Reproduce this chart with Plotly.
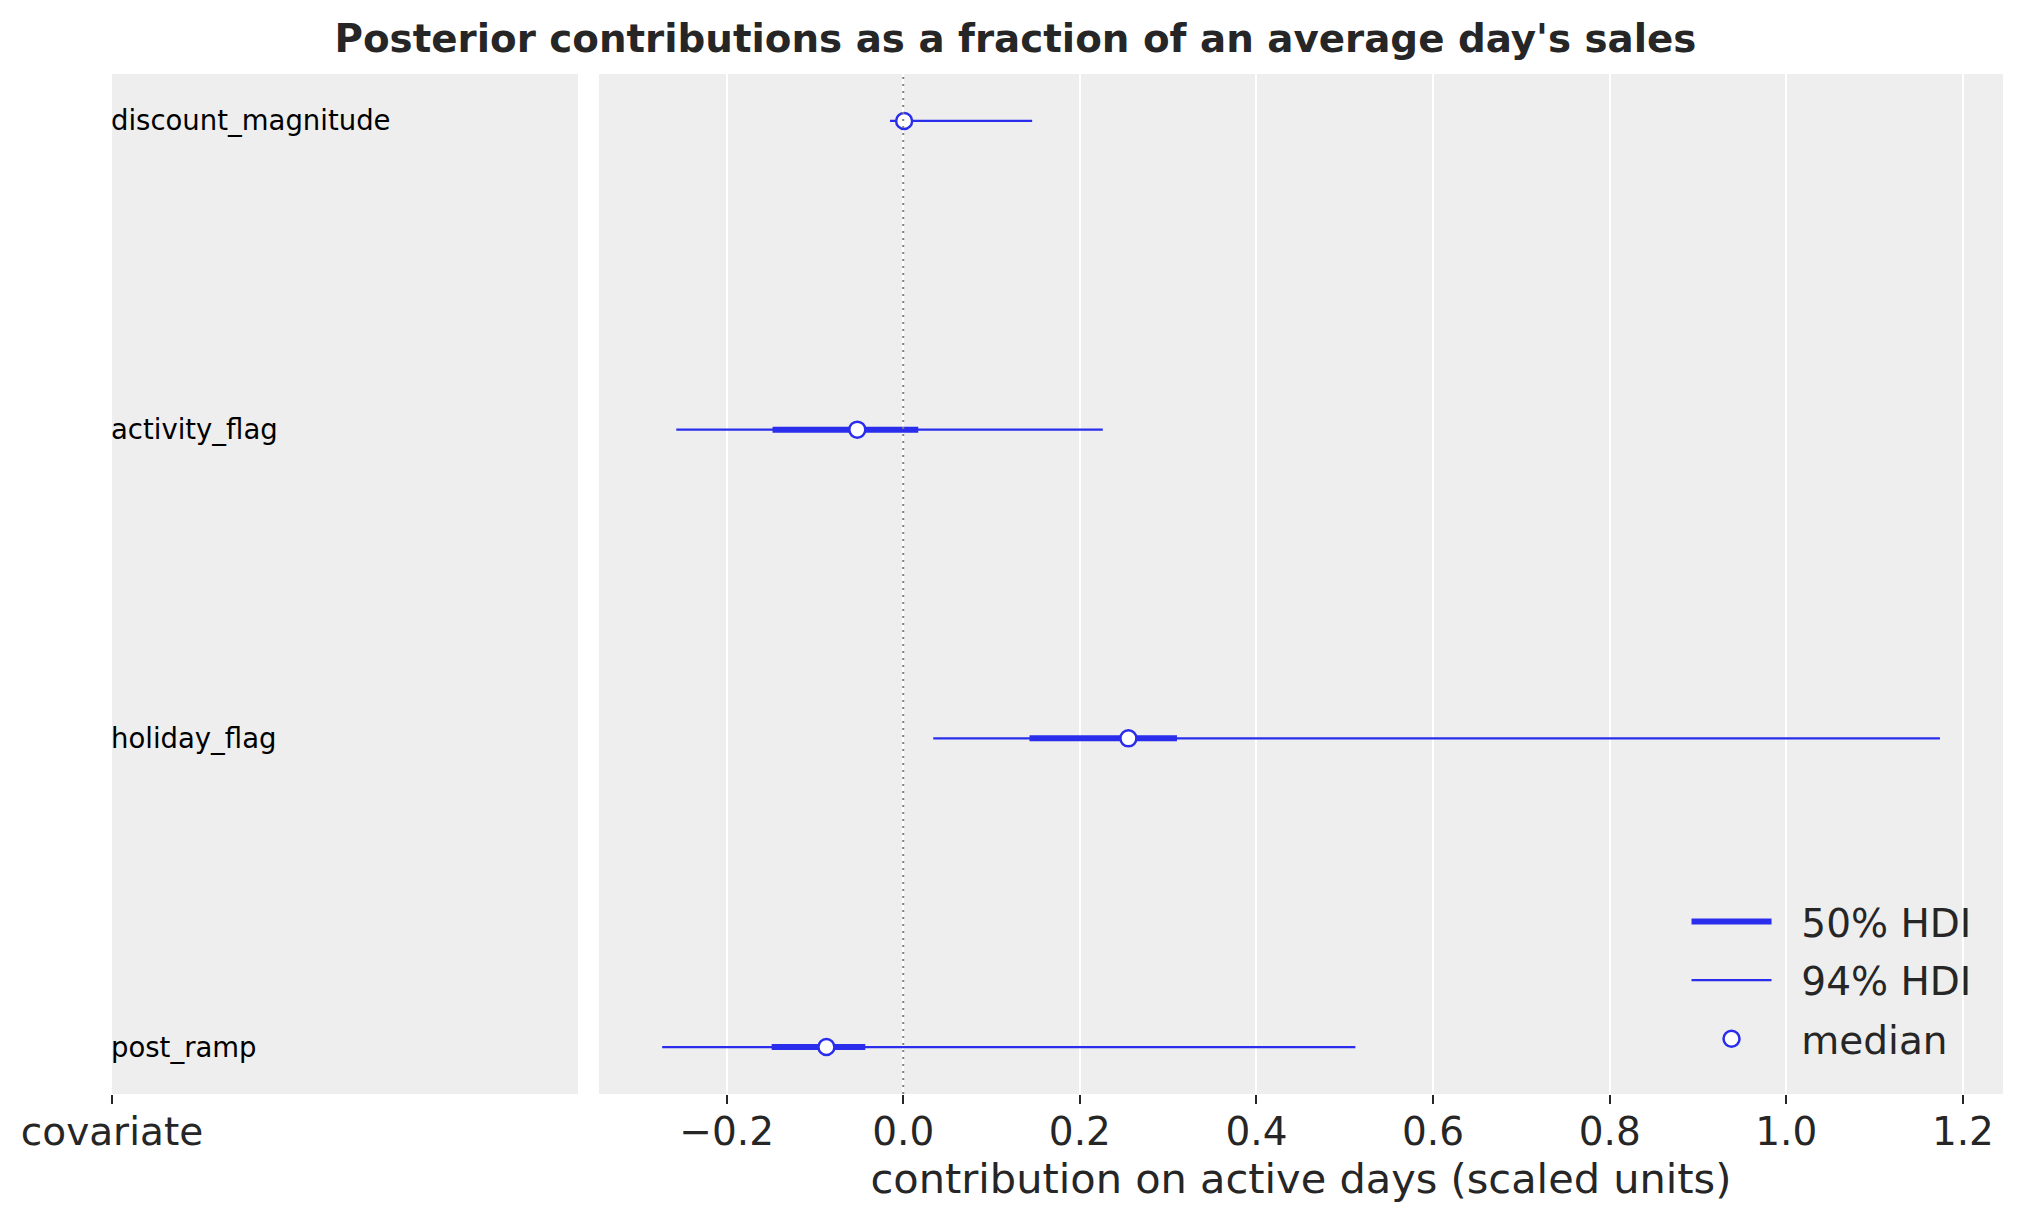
import plotly.graph_objects as go

# ---- data ----
covariates = ["discount_magnitude", "activity_flag", "holiday_flag", "post_ramp"]
median = [0.001, -0.052, 0.255, -0.087]
hdi94_low = [-0.015, -0.257, 0.034, -0.273]
hdi94_high = [0.146, 0.226, 1.174, 0.512]
hdi50_low = [-0.004, -0.148, 0.143, -0.149]
hdi50_high = [0.006, 0.017, 0.310, -0.043]
x_ticks = [-0.2, 0.0, 0.2, 0.4, 0.6, 0.8, 1.0, 1.2]
x_ticktext = ["\u22120.2", "0.0", "0.2", "0.4", "0.6", "0.8", "1.0", "1.2"]

BLUE = "#2a2eec"
TXT = "#262626"
FONT = "DejaVu Sans"
PAD = "\u00a0\u00a0"  # gap between legend key and its label

n = len(covariates)
rows = [n - 1 - i for i in range(n)]  # top row first


def segs(lo, hi):
    xs, ys = [], []
    for a, b, r in zip(lo, hi, rows):
        xs += [a, b, None]
        ys += [r, r, None]
    return xs, ys


fig = go.Figure()

x94, y94 = segs(hdi94_low, hdi94_high)
fig.add_trace(go.Scatter(x=x94, y=y94, mode="lines", name=PAD + "94% HDI",
                         line=dict(color=BLUE, width=2.2), legendrank=2,
                         legendgroup="g94",
                         xaxis="x2", yaxis="y2", hoverinfo="skip"))
x50, y50 = segs(hdi50_low, hdi50_high)
fig.add_trace(go.Scatter(x=x50, y=y50, mode="lines", name=PAD + "50% HDI",
                         line=dict(color=BLUE, width=6), legendrank=1,
                         legendgroup="g50",
                         xaxis="x2", yaxis="y2", hoverinfo="skip"))
fig.add_trace(go.Scatter(x=median, y=rows, mode="markers", name=PAD + "median",
                         marker=dict(symbol="circle", size=16, color="white",
                                     line=dict(color=BLUE, width=2.5)),
                         legendrank=3, legendgroup="gmed", xaxis="x2", yaxis="y2",
                         text=covariates))

# covariate labels in the left panel
for lab, r in zip(covariates, rows):
    fig.add_annotation(text=lab, x=0, xref="x domain", y=r, yref="y",
                       xanchor="left", yanchor="middle", showarrow=False, xshift=-3,
                       font=dict(family=FONT, size=27.5, color="black"))

# reference line at zero
fig.add_shape(type="line", x0=0, x1=0, xref="x2", y0=0, y1=1, yref="y2 domain",
              line=dict(color="#808080", width=2, dash="2px,5px"), layer="above")

W, H = 2015, 1215
yr = [-0.152, 3.152]
fig.update_layout(
    width=W, height=H,
    margin=dict(l=104, r=20, t=66, b=129),
    paper_bgcolor="white", plot_bgcolor="#eeeeee",
    font=dict(family=FONT, color=TXT),
    title=dict(text="<b>Posterior contributions as a fraction of an average day's sales</b>",
               x=0.5, xref="container", xanchor="center", y=1 - 30 / H, yref="container",
               yanchor="middle", font=dict(family=FONT, size=38.8, color=TXT)),
    xaxis=dict(domain=[0, 0.2464], range=[0, 1], tickvals=[0], ticktext=["covariate"],
               ticks="outside", ticklen=9, tickwidth=2, tickcolor=TXT,
               ticklabelstandoff=-6,
               showgrid=False, zeroline=False, showline=False, automargin=False,
               tickfont=dict(family=FONT, size=39, color=TXT), fixedrange=True),
    yaxis=dict(domain=[0, 1], range=yr, showticklabels=False, showgrid=False,
               zeroline=False, ticks="", automargin=False),
    xaxis2=dict(domain=[0.2575, 1], range=[-0.3446, 1.2454], anchor="y2",
                tickvals=x_ticks, ticktext=x_ticktext,
                ticks="outside", ticklen=9, tickwidth=2, tickcolor=TXT,
                ticklabelstandoff=-6,
                showgrid=True, gridcolor="white", gridwidth=2, zeroline=False,
                showline=False, automargin=False,
                tickfont=dict(family=FONT, size=39, color=TXT),
                title=dict(text="contribution on active days (scaled units)", standoff=0,
                           font=dict(family=FONT, size=41.5, color=TXT))),
    yaxis2=dict(domain=[0, 1], range=yr, anchor="x2", showticklabels=False,
                showgrid=False, zeroline=False, ticks="", automargin=False),
    legend=dict(x=0.986, xanchor="right", y=0.022, yanchor="bottom",
                bgcolor="rgba(0,0,0,0)", borderwidth=0, itemwidth=80,
                traceorder="grouped", tracegroupgap=5,
                font=dict(family=FONT, size=39, color=TXT)),
    showlegend=True,
)

fig.write_html("out.html")
